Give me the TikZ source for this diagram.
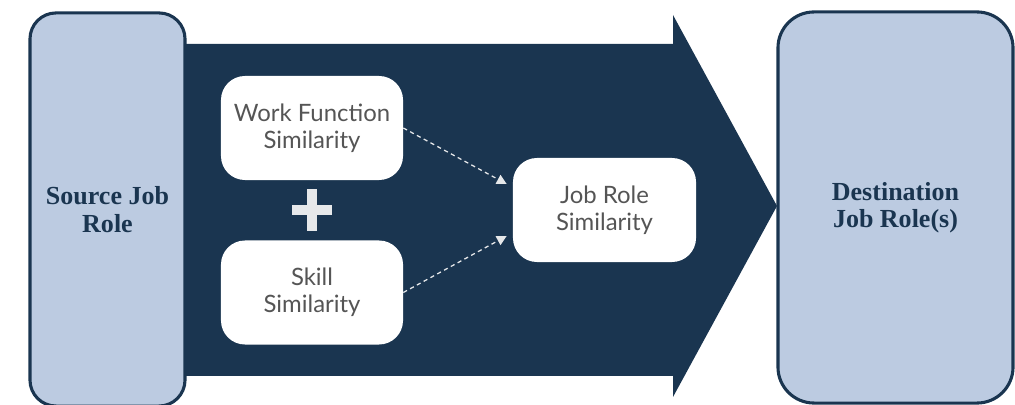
\documentclass[tikz,border=0pt]{standalone}
\usepackage{fontspec}
\setmainfont{Liberation Serif}
\newfontfamily\simfont{Lato}
\usetikzlibrary{arrows.meta,calc}
\definecolor{navy}{HTML}{1A3550}
\definecolor{paleblue}{HTML}{BCCBE1}
\definecolor{simgray}{HTML}{555555}
\definecolor{plusgray}{HTML}{E6E8EA}

\begin{document}
\begin{tikzpicture}[x=0.025cm, y=-0.025cm,
  role/.style={draw=navy, line width=2.2pt, fill=paleblue, align=center, text=navy, inner sep=0pt, font=\bfseries\fontsize{18.5}{19.5}\selectfont},
  sim/.style={fill=white, rounded corners=0.6cm, minimum width=4.55cm, minimum height=2.6cm, align=center, text=simgray, font=\simfont\fontsize{17}{19}\selectfont},
  link/.style={draw=plusgray, dash pattern=on 3pt off 2.5pt, line width=0.9pt, -{Triangle[length=7pt,width=7pt]}}
]
\useasboundingbox (0,0) rectangle (1015,405);
\clip (0,0) rectangle (1015,405);
% big arrow behind everything
\fill[navy] (150,44) -- (673,44) -- (673,15) -- (777,206) -- (673,397) -- (673,376) -- (150,376) -- cycle;
\node[role, rounded corners=0.65cm, minimum width=3.875cm, minimum height=9.825cm] (src) at (107.5,209.5) {Source Job\\Role};
\node[role, rounded corners=0.9cm, minimum width=5.875cm, minimum height=9.775cm] (dst) at (895.5,207.5) {Destination\\Job Role(s)};
\node[sim] (wf) at (312,128) {Work Function\\Similarity};
\node[sim] (sk) at (312,292.5) {Skill\\Similarity};
\node[sim, minimum width=4.575cm] (jr) at (604.5,210) {Job Role\\Similarity};
% plus sign
\fill[plusgray] (292,205) rectangle (332,215);
\fill[plusgray] (307,189) rectangle (317,231);
\draw[link] (wf.east) -- ($(jr.west)+(-6,-26)$);
\draw[link] (sk.east) -- ($(jr.west)+(-6,26)$);
\end{tikzpicture}
\end{document}
